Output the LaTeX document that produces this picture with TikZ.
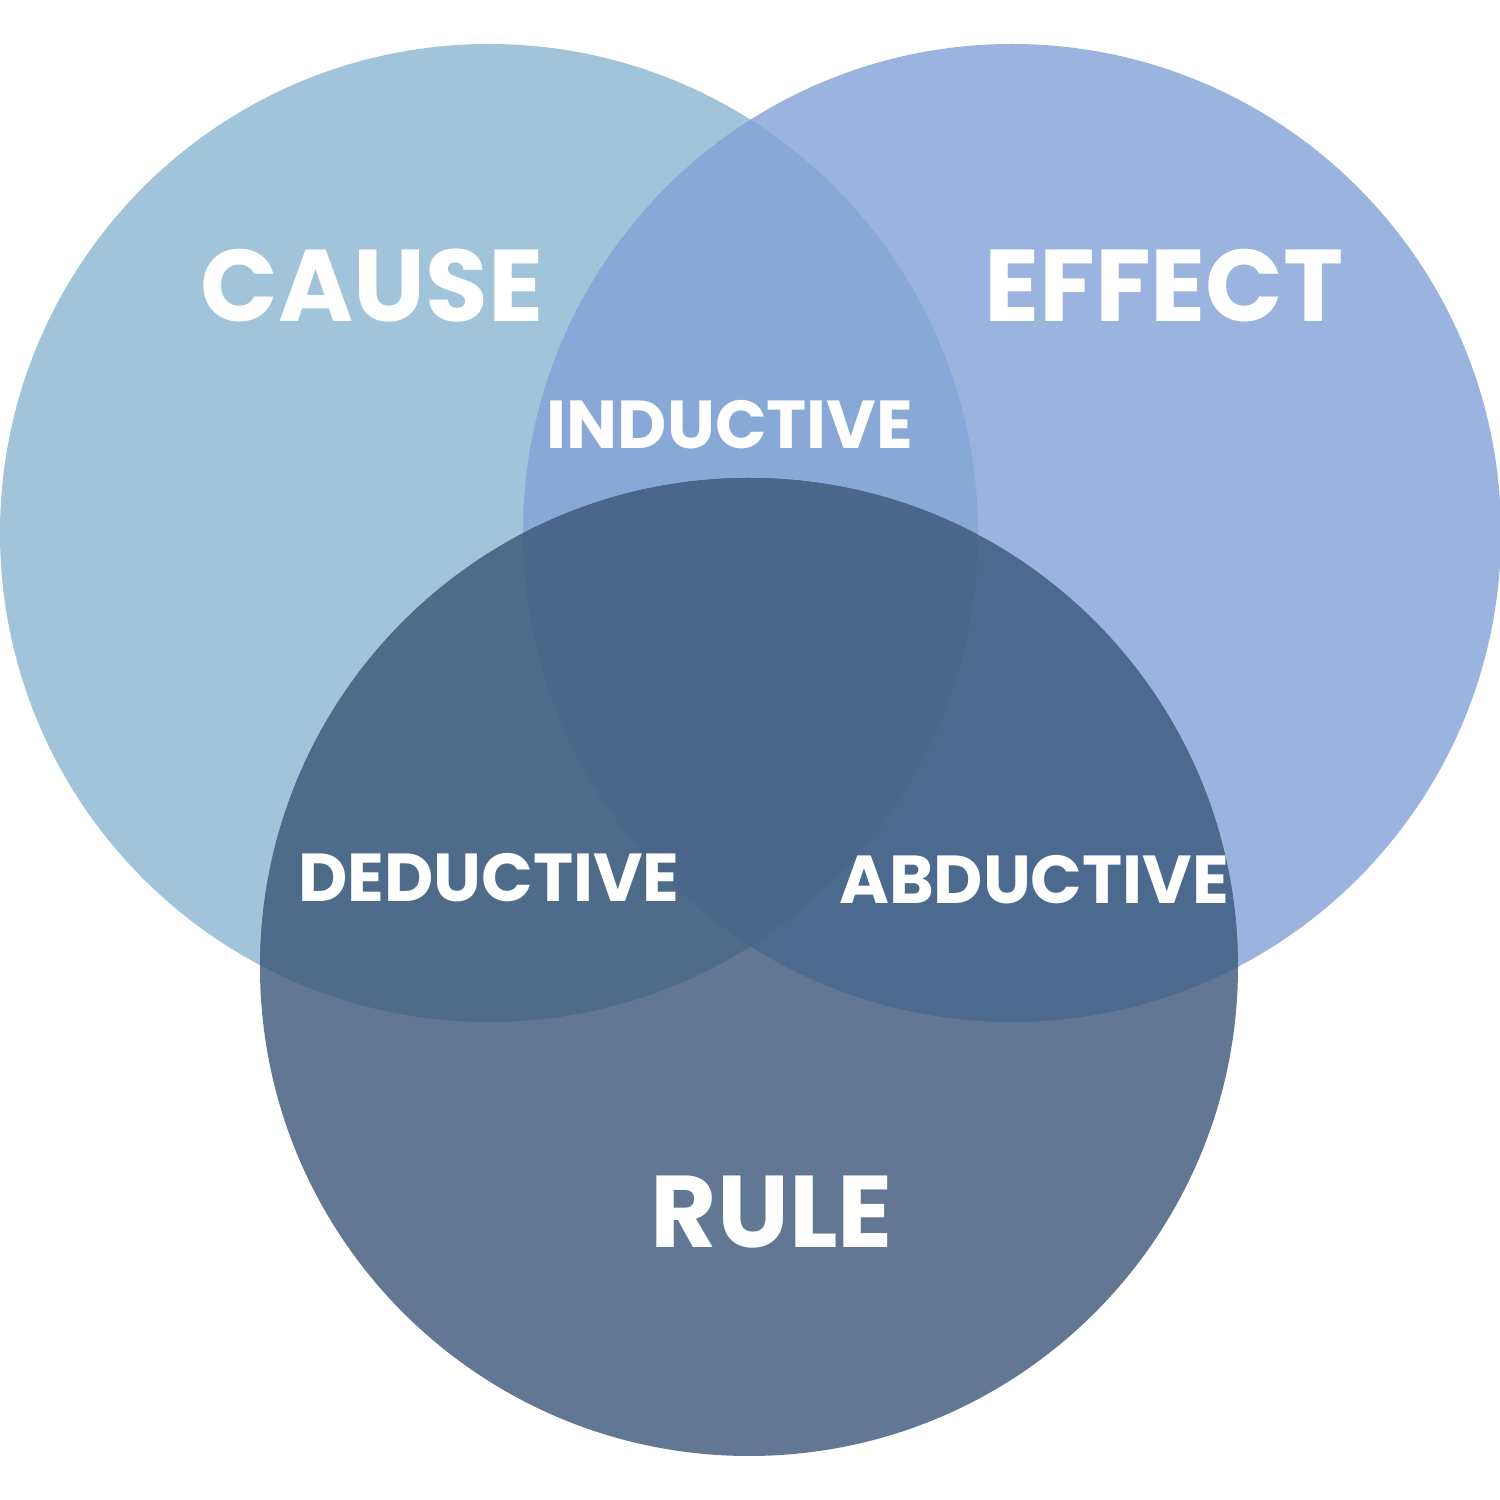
\documentclass[tikz,border=0pt]{standalone}
\usepackage{fontspec}
\setmainfont{Poppins}
\usepackage{xcolor}
\definecolor{causeblue}{HTML}{A2C4DA}
\definecolor{effectblue}{HTML}{9AB4DF}
\definecolor{rulegray}{HTML}{627793}
\definecolor{ceblue}{HTML}{88A8D7}
\definecolor{crblue}{HTML}{4E6B89}
\definecolor{erblue}{HTML}{4C6A8E}
\definecolor{allblue}{HTML}{4A6789}

\begin{document}
\begin{tikzpicture}[
  big/.style={text=white, font=\fontsize{29}{32}\selectfont\bfseries, inner sep=0pt},
  small/.style={text=white, font=\fontsize{19.3}{23}\selectfont\bfseries, inner sep=0pt}
]
\useasboundingbox (0,0) rectangle (15,15);

% centres
\coordinate (c) at (4.89,9.67);
\coordinate (e) at (10.12,9.67);
\coordinate (r) at (7.49,5.33);
\def\rad{4.89}

% circles
\fill[causeblue] (c) circle (\rad);
\fill[effectblue] (e) circle (\rad);
\fill[rulegray] (r) circle (\rad);

% overlaps
\begin{scope}
  \clip (c) circle (\rad);
  \fill[ceblue] (e) circle (\rad);
  \fill[crblue] (r) circle (\rad);
\end{scope}
\begin{scope}
  \clip (e) circle (\rad);
  \fill[erblue] (r) circle (\rad);
  \clip (r) circle (\rad);
  \fill[allblue] (c) circle (\rad);
\end{scope}

% labels
\node (cause) [big] at (3.72,12.14) {CAUSE};
\node (effect) [big] at (11.64,12.14) {EFFECT};
\node (rule) [big] at (7.72,2.88) {RULE};
\node (inductive) [small] at (7.30,10.75) {INDUCTIVE};
\node (deductive) [small] at (4.89,6.22) {DEDUCTIVE};
\node (abductive) [small] at (10.34,6.20) {ABDUCTIVE};

\end{tikzpicture}
\end{document}
